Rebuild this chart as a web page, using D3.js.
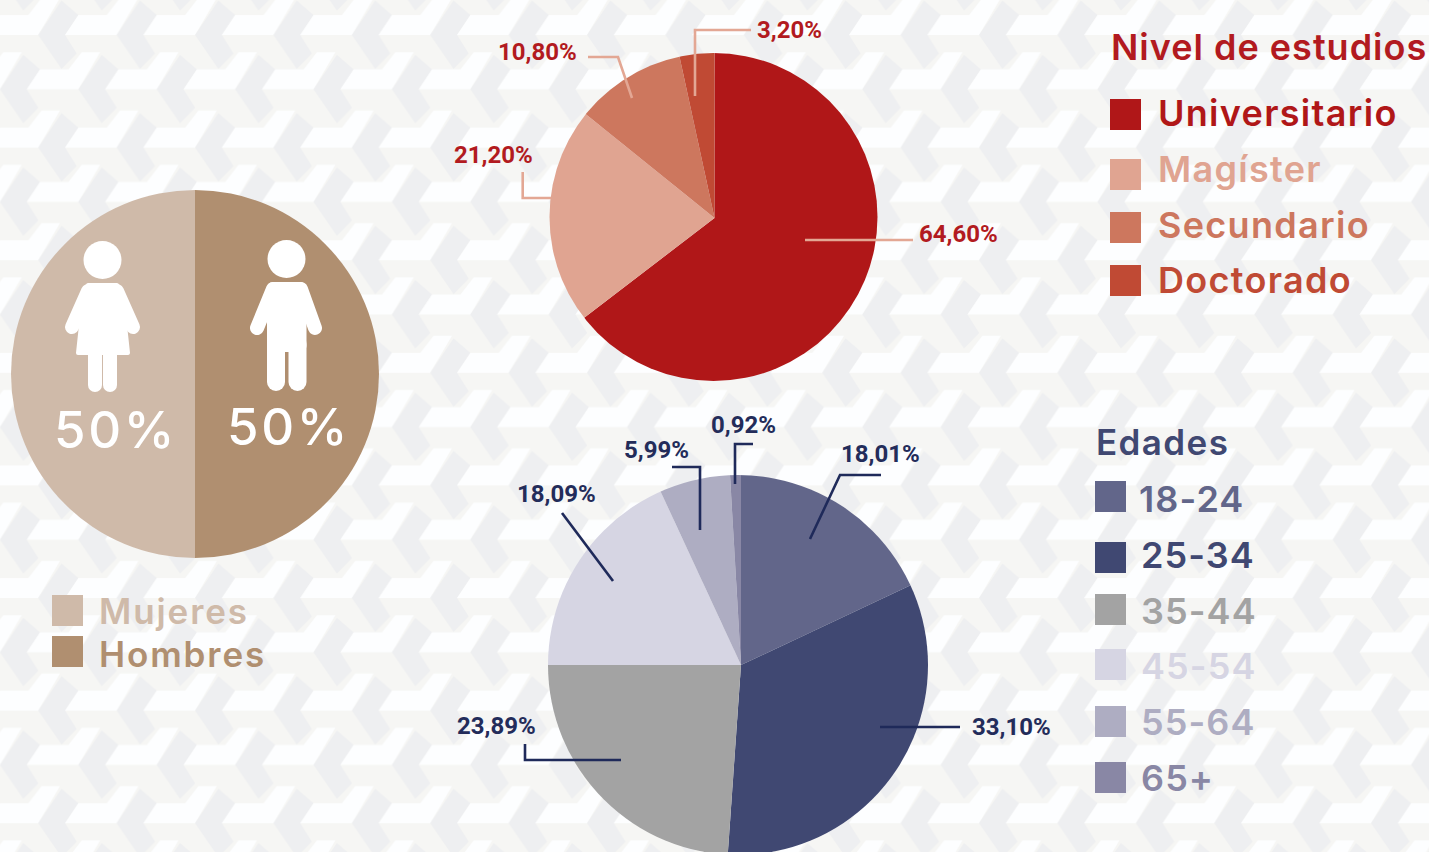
<!DOCTYPE html>
<html><head><meta charset="utf-8">
<script src="https://cdn.jsdelivr.net/npm/d3@7"></script>
<style>html,body{margin:0;padding:0;background:#f6f6f4;overflow:hidden}svg{display:block}</style>
</head><body><svg id="c" width="1429" height="852"></svg>
<script>
// ---- data ----
const genderLabels = ["Mujeres", "Hombres"];
const genderValues = [50, 50];
const studyLabels = ["Universitario", "Magíster", "Secundario", "Doctorado"];
const studyValues = [64.6, 21.2, 10.8, 3.2];
const studySliceValues = [64.6, 21.2, 10.8, 3.4];   // the printed labels sum to 99.8; the picture's last slice closes the circle
const ageLabels = ["18-24", "25-34", "35-44", "45-54", "55-64", "65+"];
const ageValues = [18.01, 33.1, 23.89, 18.09, 5.99, 0.92];
// ---- palette ----
const genderColors = ["#cfbaa9", "#b08f70"];
const studyColors = ["#b01718", "#e0a491", "#cd775e", "#c04a34"];
const ageColors = ["#62668a", "#404872", "#a3a3a3", "#d6d5e3", "#aeadc2", "#8987a5"];
const pct = v => (v.toFixed(2)).replace(".", ",") + "%";
const svg = d3.select("#c");

// ---- background tile ----
const defs = svg.append("defs");
const W = 78.4, H = 112.6, rowDx = 40.1, rowDy = 54.3;
const pat = defs.append("pattern").attr("id", "tile").attr("patternUnits", "userSpaceOnUse")
  .attr("width", W).attr("height", H).attr("x", 65).attr("y", 35);
pat.append("rect").attr("width", W).attr("height", H).attr("fill", "#f6f6f4");
const whiteShape = "M0,0 L13.3,-20 L41.7,-20 L55,-37 L73.5,-37 L51.7,0 Z";
const greyShape = "M51.7,0 L75,-34.3 L91.7,-20 L78.4,0 L90,18.5 L75,34 Z";
const cells = [];
for (let r = -2; r <= 2; r++) for (let c = -2; c <= 2; c++) {
  cells.push([c * W, r * H]);
  cells.push([c * W + rowDx, r * H + rowDy]);
}
const tile = pat.append("g").selectAll("g").data(cells).join("g").attr("transform", d => `translate(${d[0]},${d[1]})`);
tile.append("path").attr("d", whiteShape).attr("fill", "#fdfeff");
tile.append("path").attr("d", greyShape).attr("fill", "#eeeff1");
svg.append("rect").attr("width", 1429).attr("height", 852).attr("fill", "url(#tile)");

// ---- pies: slices meet at (sx,sy); outline is the circle (cx,cy,r) ----
let clipId = 0;
function drawPie(values, colors, sx, sy, cx, cy, r, start) {
  const id = "clip" + (clipId++);
  defs.append("clipPath").attr("id", id).append("circle").attr("cx", cx).attr("cy", cy).attr("r", r);
  const pie = d3.pie().sort(null).startAngle(start).endAngle(start + 2 * Math.PI);
  const arc = d3.arc().innerRadius(0).outerRadius(r + 12);
  svg.append("g").attr("clip-path", `url(#${id})`)
    .append("g").attr("transform", `translate(${sx},${sy})`)
    .selectAll("path").data(pie(values)).join("path")
    .attr("d", arc).attr("fill", (d, i) => colors[i]);
}
drawPie(genderValues, genderColors, 195, 374, 195, 374, 184, Math.PI);
drawPie(studySliceValues, studyColors, 714.5, 218, 713.5, 217, 164, 0);
drawPie(ageValues, ageColors, 741, 665, 738, 665, 190, 0);

// ---- people icons ----
const woman = svg.append("g").attr("fill", "#fff").attr("stroke", "#fff");
woman.append("circle").attr("cx", 102.5).attr("cy", 260).attr("r", 19).attr("stroke", "none");
woman.append("path").attr("stroke-width", 4).attr("stroke-linejoin", "round")
  .attr("d", "M88,285 L117,285 L125,325 L128,353 L78,353 L81,325 Z");
woman.append("path").attr("stroke-width", 14).attr("stroke-linecap", "round").attr("fill", "none")
  .attr("d", "M88,291 L72,327 M117,291 L133,327");
woman.append("rect").attr("x", 88).attr("y", 345).attr("width", 14).attr("height", 47).attr("rx", 7).attr("stroke", "none");
woman.append("rect").attr("x", 103).attr("y", 345).attr("width", 14).attr("height", 47).attr("rx", 7).attr("stroke", "none");

const man = svg.append("g").attr("fill", "#fff").attr("stroke", "#fff");
man.append("circle").attr("cx", 286.5).attr("cy", 259).attr("r", 19).attr("stroke", "none");
man.append("rect").attr("x", 267).attr("y", 282).attr("width", 39.5).attr("height", 70).attr("rx", 6).attr("stroke", "none");
man.append("path").attr("stroke-width", 14).attr("stroke-linecap", "round").attr("fill", "none")
  .attr("d", "M273,289 L257,328 M301,289 L315,328");
man.append("rect").attr("x", 267).attr("y", 335).attr("width", 18).attr("height", 56).attr("rx", 9).attr("stroke", "none");
man.append("rect").attr("x", 288.5).attr("y", 335).attr("width", 18).attr("height", 56).attr("rx", 9).attr("stroke", "none");

svg.selectAll("text.big").data([[54, 448], [227, 445]]).join("text").attr("class", "big")
  .attr("x", d => d[0]).attr("y", d => d[1]).text(genderValues[0] + "%")
  .attr("font-family", "Inter").attr("font-size", 51).attr("font-weight", 500)
  .attr("letter-spacing", 2.6).attr("fill", "#fff");

// ---- leaders and value labels ----
const lineGen = d3.line();
function callouts(values, pts, anchors, lineColor, textColor) {
  svg.append("g").selectAll("path").data(pts).join("path").attr("d", lineGen)
    .attr("fill", "none").attr("stroke", lineColor).attr("stroke-width", 2.6);
  svg.append("g").selectAll("text").data(values).join("text").text(pct)
    .attr("x", (d, i) => anchors[i][0]).attr("y", (d, i) => anchors[i][1])
    .attr("font-family", "Roboto").attr("font-weight", 700).attr("font-size", 24)
    .attr("fill", textColor);
}
callouts(studyValues,
  [[[805,240],[913,240]], [[522.7,172],[522.7,198],[551,198]], [[588,57],[618,57],[632,98]], [[695,96],[695,30],[751,30]]],
  [[919,242],[454,163],[498,60],[757,38]], "#e3a794", "#b21a20");
callouts(ageValues,
  [[[810,539],[840,475],[881,475]], [[880,727],[960,727]], [[525,744],[525,760],[621,760]], [[562,513],[613,581]], [[672,467],[700,467],[700,530]], [[753,444],[735,444],[735,484]]],
  [[841,462],[972,735],[457,734],[517,502],[624,458],[711,433]], "#1f2a5a", "#232c5a");

// ---- legends ----
const legendFont = "Inter, 'Noto Sans', sans-serif";
function legend(labels, colors, squareTops, sqX, textXs, baselines, size, spacing) {
  const g = svg.append("g");
  g.selectAll("rect").data(labels).join("rect")
    .attr("x", sqX).attr("y", (d, i) => squareTops[i]).attr("width", 31).attr("height", 31)
    .attr("fill", (d, i) => colors[i]);
  g.selectAll("text").data(labels).join("text").text(d => d)
    .attr("x", (d, i) => textXs[i]).attr("y", (d, i) => baselines[i])
    .attr("font-family", legendFont).attr("font-size", size).attr("font-weight", 600)
    .attr("letter-spacing", spacing).attr("fill", (d, i) => colors[i]);
}
svg.append("text").text("Nivel de estudios").attr("x", 1111).attr("y", 60)
  .attr("font-family", legendFont).attr("font-size", 36).attr("font-weight", 600)
  .attr("letter-spacing", 1).attr("fill", "#b21a20");
svg.append("text").text("Edades").attr("x", 1096).attr("y", 455)
  .attr("font-family", legendFont).attr("font-size", 35).attr("font-weight", 600)
  .attr("letter-spacing", 1.4).attr("fill", "#404872");
legend(studyLabels, studyColors, [99,159,212,265], 1110, [1158,1158,1158,1158], [126,182,238,293], 36, 1.3);
legend(ageLabels, ageColors, [481,542,594,649,706,762], 1095, [1139,1141,1141,1141,1141,1141], [512,568,624,679,735,791], 36, 1.1);
legend(genderLabels, genderColors, [595,636], 52, [99,99], [624,667], 35, 1.9);
</script></body></html>
